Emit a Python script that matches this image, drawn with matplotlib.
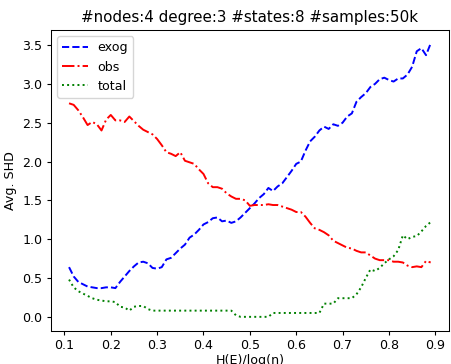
import matplotlib
matplotlib.use("Agg")
import matplotlib.pyplot as plt
import numpy as np

# normalised exogenous entropy bins
h_ratio = np.round(np.arange(0.11, 0.895, 0.01), 2)

shd_exog = [0.64, 0.52, 0.45, 0.42, 0.39, 0.38, 0.37, 0.37, 0.38, 0.38,
            0.37, 0.45, 0.52, 0.59, 0.65, 0.70, 0.71, 0.69, 0.63, 0.62,
            0.64, 0.74, 0.76, 0.82, 0.88, 0.93, 1.02, 1.06, 1.12, 1.19,
            1.22, 1.27, 1.28, 1.23, 1.24, 1.21, 1.23, 1.28, 1.34, 1.40,
            1.46, 1.53, 1.58, 1.66, 1.62, 1.68, 1.72, 1.80, 1.88, 1.97,
            2.00, 2.14, 2.26, 2.32, 2.40, 2.45, 2.42, 2.48, 2.46, 2.50,
            2.58, 2.62, 2.77, 2.83, 2.88, 2.96, 3.00, 3.06, 3.08, 3.05,
            3.03, 3.07, 3.07, 3.12, 3.22, 3.42, 3.46, 3.37, 3.52]

shd_obs = [2.75, 2.73, 2.66, 2.57, 2.47, 2.51, 2.48, 2.40, 2.54, 2.60,
           2.53, 2.53, 2.51, 2.58, 2.52, 2.46, 2.41, 2.38, 2.35, 2.29,
           2.21, 2.12, 2.10, 2.07, 2.12, 2.01, 1.99, 1.97, 1.90, 1.84,
           1.72, 1.67, 1.67, 1.65, 1.59, 1.55, 1.52, 1.52, 1.50, 1.43,
           1.44, 1.44, 1.44, 1.45, 1.44, 1.44, 1.42, 1.40, 1.38, 1.35,
           1.35, 1.29, 1.21, 1.14, 1.12, 1.09, 1.05, 0.98, 0.95, 0.92,
           0.89, 0.88, 0.85, 0.83, 0.83, 0.79, 0.75, 0.73, 0.73, 0.73,
           0.71, 0.71, 0.70, 0.66, 0.64, 0.65, 0.64, 0.72, 0.70]

shd_total = [0.48, 0.38, 0.33, 0.30, 0.27, 0.24, 0.22, 0.21, 0.20, 0.20,
             0.19, 0.13, 0.12, 0.08, 0.13, 0.14, 0.14, 0.10, 0.08, 0.08,
             0.08, 0.08, 0.08, 0.08, 0.08, 0.08, 0.08, 0.08, 0.08, 0.08,
             0.08, 0.08, 0.08, 0.08, 0.08, 0.08, 0.02, 0.00, 0.00, 0.00,
             0.00, 0.00, 0.00, 0.00, 0.05, 0.05, 0.05, 0.05, 0.05, 0.05,
             0.05, 0.05, 0.05, 0.05, 0.05, 0.17, 0.17, 0.17, 0.24, 0.24,
             0.24, 0.24, 0.29, 0.38, 0.50, 0.61, 0.59, 0.63, 0.69, 0.74,
             0.78, 0.86, 1.05, 1.00, 1.03, 1.04, 1.10, 1.17, 1.22]

# everything a bit smaller than the defaults
plt.rcParams.update({
    "font.size": 9.1,
    "lines.linewidth": 1.4,
    "axes.linewidth": 0.75,
    "xtick.major.size": 3.2,
    "ytick.major.size": 3.2,
    "xtick.major.pad": 2.6,
    "ytick.major.pad": 3.2,
})

fig = plt.figure(figsize=(4.51, 3.64), dpi=100)
ax = fig.add_axes([0.113, 0.092, 0.882, 0.826])

ax.plot(h_ratio, shd_exog, "b--", label="exog")
ax.plot(h_ratio, shd_obs, "r-.", label="obs")
ax.plot(h_ratio, shd_total, "g:", label="total")

ax.set_xticks([0.1, 0.2, 0.3, 0.4, 0.5, 0.6, 0.7, 0.8, 0.9])
ax.set_yticks([0.0, 0.5, 1.0, 1.5, 2.0, 2.5, 3.0, 3.5])
ax.set_xlabel("H(E)/log(n)", labelpad=1.5)
ax.set_ylabel("Avg. SHD", labelpad=3.5)
ax.set_title("#nodes:4 degree:3 #states:8 #samples:50k", pad=5.5)
ax.legend(loc="upper left")

plt.savefig("out.png", dpi=100)
